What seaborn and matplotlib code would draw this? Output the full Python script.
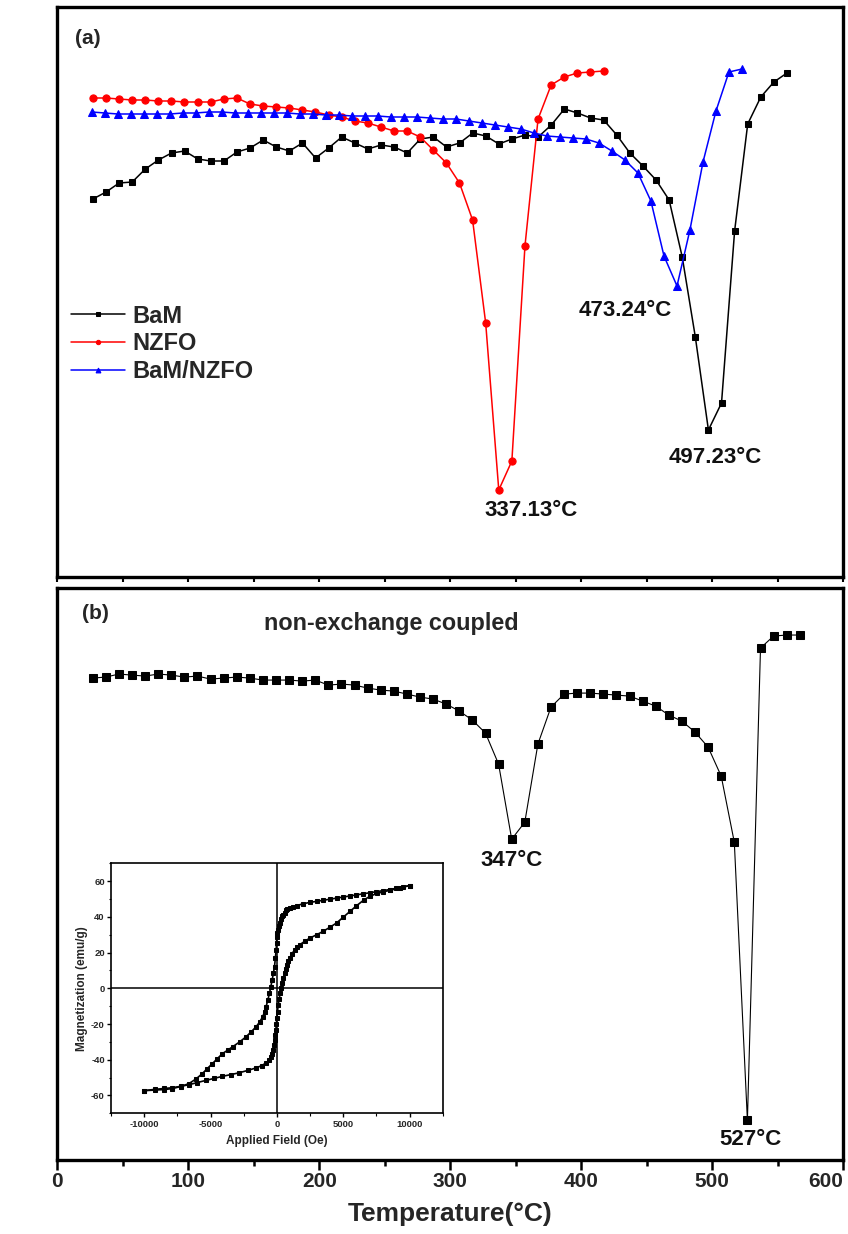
import matplotlib
matplotlib.use("Agg")
import matplotlib.pyplot as plt
from matplotlib.ticker import MultipleLocator
import seaborn as sns

# ---------------- panel (a): dM/dT curves ----------------
bam_T = [27.23, 37.23, 47.23, 57.23, 67.23, 77.23, 87.23, 97.23, 107.23, 117.23,
         127.23, 137.23, 147.23, 157.23, 167.23, 177.23, 187.23, 197.23, 207.23, 217.23,
         227.23, 237.23, 247.23, 257.23, 267.23, 277.23, 287.23, 297.23, 307.23, 317.23,
         327.23, 337.23, 347.23, 357.23, 367.23, 377.23, 387.23, 397.23, 407.23, 417.23,
         427.23, 437.23, 447.23, 457.23, 467.23, 477.23, 487.23, 497.23, 507.23, 517.23,
         527.23, 537.23, 547.23, 557.23]
bam_v = [3.78, 3.85, 3.94, 3.95, 4.08, 4.17, 4.24, 4.26, 4.18, 4.16,
         4.16, 4.25, 4.29, 4.37, 4.30, 4.26, 4.34, 4.19, 4.29, 4.40,
         4.34, 4.28, 4.32, 4.30, 4.24, 4.38, 4.40, 4.30, 4.34, 4.44,
         4.41, 4.33, 4.38, 4.42, 4.40, 4.52, 4.68, 4.64, 4.59, 4.57,
         4.42, 4.24, 4.11, 3.97, 3.77, 3.20, 2.40, 1.47, 1.74, 3.46,
         4.53, 4.80, 4.95, 5.04]

nzfo_T = [27.13, 37.13, 47.13, 57.13, 67.13, 77.13, 87.13, 97.13, 107.13, 117.13,
          127.13, 137.13, 147.13, 157.13, 167.13, 177.13, 187.13, 197.13, 207.13, 217.13,
          227.13, 237.13, 247.13, 257.13, 267.13, 277.13, 287.13, 297.13, 307.13, 317.13,
          327.13, 337.13, 347.13, 357.13, 367.13, 377.13, 387.13, 397.13, 407.13, 417.13]
nzfo_v = [4.79, 4.79, 4.78, 4.77, 4.77, 4.76, 4.76, 4.75, 4.75, 4.75,
          4.78, 4.79, 4.73, 4.71, 4.70, 4.69, 4.67, 4.65, 4.62, 4.60,
          4.56, 4.54, 4.50, 4.46, 4.46, 4.40, 4.27, 4.14, 3.94, 3.57,
          2.54, 0.87, 1.16, 3.31, 4.58, 4.92, 5.00, 5.04, 5.05, 5.06]

comp_T = [26.4, 36.3, 46.2, 56.2, 66.1, 76.0, 85.9, 95.9, 105.8, 115.7,
          125.7, 135.6, 145.5, 155.5, 165.4, 175.3, 185.2, 195.2, 205.1, 215.0,
          225.0, 234.9, 244.8, 254.7, 264.7, 274.6, 284.5, 294.5, 304.4, 314.3,
          324.3, 334.2, 344.1, 354.0, 364.0, 373.9, 383.8, 393.8, 403.7, 413.6,
          423.5, 433.5, 443.4, 453.3, 463.3, 473.24, 483.1, 493.1, 503.0, 512.9,
          522.9]
comp_v = [4.65, 4.64, 4.63, 4.63, 4.63, 4.63, 4.63, 4.64, 4.64, 4.65,
          4.65, 4.64, 4.64, 4.64, 4.64, 4.64, 4.63, 4.63, 4.62, 4.62,
          4.61, 4.61, 4.61, 4.60, 4.60, 4.60, 4.59, 4.58, 4.58, 4.56,
          4.54, 4.52, 4.50, 4.48, 4.44, 4.41, 4.40, 4.39, 4.38, 4.34,
          4.26, 4.17, 4.04, 3.76, 3.21, 2.91, 3.47, 4.15, 4.66, 5.05,
          5.08]

# ---------------- panel (b): non-exchange coupled sample ----------------
nec_T = [27, 37, 47, 57, 67, 77, 87, 97, 107, 117,
         127, 137, 147, 157, 167, 177, 187, 197, 207, 217,
         227, 237, 247, 257, 267, 277, 287, 297, 307, 317,
         327, 337, 347, 357, 367, 377, 387, 397, 407, 417,
         427, 437, 447, 457, 467, 477, 487, 497, 507, 517,
         527, 537, 547, 557, 567]
nec_v = [4.81, 4.82, 4.85, 4.84, 4.83, 4.85, 4.84, 4.82, 4.83, 4.80,
         4.81, 4.82, 4.81, 4.79, 4.79, 4.79, 4.78, 4.79, 4.74, 4.75,
         4.74, 4.71, 4.69, 4.68, 4.65, 4.62, 4.60, 4.55, 4.48, 4.39,
         4.26, 3.95, 3.20, 3.37, 4.15, 4.52, 4.65, 4.66, 4.66, 4.65,
         4.64, 4.63, 4.58, 4.53, 4.44, 4.38, 4.27, 4.12, 3.83, 3.17,
         0.39, 5.11, 5.23, 5.24, 5.24]
temp_ticks = [0, 100, 200, 300, 400, 500, 600]

# ---------------- inset: hysteresis loop (field in Oe, M in emu/g) ----------------
desc_H = [10000, 9500, 9000, 8500, 8000, 7500, 7000, 6500, 6000, 5500,
          5000, 4500, 4000, 3500, 3000, 2500, 2000, 1500, 1200, 962,
          800, 700, 582, 500, 405, 300, 203, 130, 76, 30,
          0, -25, -51, -110, -177, -260, -354, -450, -557, -680,
          -810, -930, -1063, -1300, -1570, -1950, -2329, -2800, -3342, -3700,
          -4101, -4500, -4861, -5250, -5620, -6100, -6633, -7250, -7899, -8500,
          -9200, -10000]
desc_M = [57.5, 56.8, 56.0, 55.3, 54.7, 54.1, 53.5, 52.9, 52.3, 51.7,
          51.1, 50.5, 49.9, 49.3, 48.7, 48.1, 47.4, 46.3, 45.6, 45.0,
          44.2, 43.6, 42.2, 41.3, 40.3, 38.6, 36.6, 34.8, 32.8, 30.8,
          29.0, 25.5, 21.6, 17.0, 12.2, 8.4, 4.7, 1.0, -2.8, -6.6,
          -10.3, -13.2, -15.9, -18.9, -21.6, -24.5, -27.2, -30.0, -32.8, -34.6,
          -36.6, -39.5, -42.2, -45.0, -47.8, -50.8, -53.4, -55.0, -56.2, -56.7,
          -57.0, -57.3]
asc_H = [-10000, -9200, -8500, -7899, -7250, -6633, -6000, -5367, -4700, -4101,
         -3450, -2835, -2200, -1570, -1150, -810, -600, -430, -330, -253,
         -200, -152, -110, -76, -40, 0, 50, 101, 175, 253,
         330, 405, 490, 582, 670, 759, 860, 962, 1150, 1342,
         1530, 1722, 2100, 2481, 3000, 3494, 4000, 4506, 5000, 5519,
         6000, 6532, 7000, 7544, 8000, 8557, 9300, 10000]
asc_M = [-57.3, -56.6, -56.1, -55.7, -54.9, -54.0, -52.8, -51.6, -50.4, -49.3,
         -48.3, -47.3, -46.0, -44.6, -43.3, -41.8, -40.4, -38.4, -36.6, -34.3,
         -31.9, -29.1, -26.3, -23.4, -20.2, -16.9, -13.0, -9.4, -6.0, -2.8,
         0.0, 2.8, 5.6, 8.4, 10.9, 13.1, 15.1, 16.9, 19.4, 21.6,
         23.1, 24.4, 26.3, 28.1, 30.0, 31.9, 34.2, 36.6, 39.8, 43.1,
         46.2, 49.3, 51.5, 53.1, 54.0, 54.9, 56.3, 57.5]
field_ticks = [-10000, -5000, 0, 5000, 10000]
moment_ticks = [-60, -40, -20, 0, 20, 40, 60]

peak_a = [("BaM/NZFO", 473.24, -37.5, -17.5),
          ("NZFO", 337.13, 23.5, -14.5),
          ("BaM", 497.23, 5.0, -19.5)]
peak_b = [(347, 0.0, -15.5), (527, 2.5, -14.0)]

sns.set_theme(style="ticks")
plt.rcParams["font.family"] = ["Liberation Sans", "DejaVu Sans"]
plt.rcParams["font.weight"] = "bold"
plt.rcParams["axes.labelweight"] = "bold"
plt.rcParams["axes.unicode_minus"] = False

W, H = 848, 1234
fig = plt.figure(figsize=(W / 100, H / 100), dpi=100)
fig.patch.set_facecolor("white")


def frac_rect(x0, y0, x1, y1):
    return [x0 / W, 1 - y1 / H, (x1 - x0) / W, (y1 - y0) / H]


ax_a = fig.add_axes(frac_rect(57.3, 7, 843, 577))
ax_b = fig.add_axes(frac_rect(57.3, 588, 843, 1159.5))
ax_in = fig.add_axes(frac_rect(111, 863.3, 442.7, 1113.3))

for ax in (ax_a, ax_b):
    ax.set_facecolor("white")
    for sp in ax.spines.values():
        sp.set_linewidth(2.4)
        sp.set_color("black")
    ax.set_xlim(0, 600)
    ax.set_yticks([])
    ax.set_xticks(temp_ticks)
    ax.xaxis.set_minor_locator(MultipleLocator(50))

ax_a.set_ylim(0, 5.70)
ax_b.set_ylim(0, 5.71)

# panel (a) curves
sns.lineplot(x=bam_T, y=bam_v, ax=ax_a, color="black", marker="s", markersize=4.6,
             markeredgecolor="black", linewidth=1.1, label="BaM", errorbar=None, sort=False)
sns.lineplot(x=nzfo_T, y=nzfo_v, ax=ax_a, color="#ff0000", marker="o", markersize=5.2,
             markeredgecolor="#ff0000", linewidth=1.1, label="NZFO", errorbar=None, sort=False)
sns.lineplot(x=comp_T, y=comp_v, ax=ax_a, color="#0000ff", marker="^", markersize=5.8,
             markeredgecolor="#0000ff", linewidth=1.1, label="BaM/NZFO", errorbar=None, sort=False)

series = {"BaM": (bam_T, bam_v), "NZFO": (nzfo_T, nzfo_v), "BaM/NZFO": (comp_T, comp_v)}
for name, t_peak, dx, dy in peak_a:
    ts, vs = series[name]
    i = ts.index(t_peak)
    ax_a.annotate(f"{t_peak:.2f}\u00b0C", xy=(t_peak, vs[i]), xytext=(dx, dy),
                  textcoords="offset points", ha="center", va="center",
                  fontsize=16, fontweight="bold", color="#111111")

leg = ax_a.legend(loc="upper left", bbox_to_anchor=(0.017, 0.478), frameon=False,
                  fontsize=17, handlelength=2.3, handletextpad=0.3, labelspacing=0.2,
                  borderpad=0, borderaxespad=0, markerscale=0.6)
for txt in leg.get_texts():
    txt.set_fontweight("bold")

ax_a.text(0.039, 0.945, "(a)", transform=ax_a.transAxes, ha="center", va="center",
          fontsize=15, fontweight="bold")
ax_a.tick_params(axis="x", which="major", direction="out", length=3.5, width=1.5,
                 labelbottom=False, bottom=True, color="black")
ax_a.tick_params(axis="x", which="minor", direction="out", length=3.5, width=1.5,
                 bottom=True, color="black")
ax_a.set_xlabel("")
ax_a.set_ylabel("dM/dT", fontsize=18, fontweight="bold")
ax_a.yaxis.set_label_coords(-0.042, 0.5)

# panel (b) curve
sns.lineplot(x=nec_T, y=nec_v, ax=ax_b, color="black", marker="s", markersize=5.6,
             markeredgecolor="black", linewidth=0.8, errorbar=None, sort=False)
for t_peak, dx, dy in peak_b:
    i = nec_T.index(t_peak)
    ax_b.annotate(f"{t_peak}\u00b0C", xy=(t_peak, nec_v[i]), xytext=(dx, dy),
                  textcoords="offset points", ha="center", va="center",
                  fontsize=16, fontweight="bold", color="#111111")

ax_b.text(0.048, 0.956, "(b)", transform=ax_b.transAxes, ha="center", va="center",
          fontsize=15, fontweight="bold")
ax_b.text(0.4256, 0.9387, "non-exchange coupled", transform=ax_b.transAxes,
          ha="center", va="center", fontsize=16.8, fontweight="bold")
ax_b.tick_params(axis="x", which="major", direction="out", length=7, width=1.8,
                 labelsize=15, pad=2, bottom=True, color="black")
ax_b.tick_params(axis="x", which="minor", direction="out", length=4, width=1.8,
                 bottom=True, color="black")
ax_b.set_xticks(temp_ticks, labels=[str(t) for t in temp_ticks], fontweight="bold")
# keep the last tick label inside the figure edge
last_label = ax_b.get_xticklabels()[-1]
last_label.set_horizontalalignment("right")
last_label.set_x(temp_ticks[-1] + 3)
ax_b.set_xlabel("Temperature(\u00b0C)", fontsize=19, fontweight="bold", labelpad=8)
ax_b.set_ylabel("dM/dT", fontsize=18, fontweight="bold")
ax_b.yaxis.set_label_coords(-0.042, 0.5)

# inset: M-H loop
ax_in.set_facecolor("white")
for sp in ax_in.spines.values():
    sp.set_linewidth(1.2)
    sp.set_color("black")
ax_in.set_xlim(-12500, 12500)
ax_in.set_ylim(-70, 70)
ax_in.axhline(0, color="black", linewidth=1.1, zorder=1)
ax_in.axvline(0, color="black", linewidth=1.1, zorder=1)
sns.lineplot(x=desc_H, y=desc_M, ax=ax_in, color="black", marker="s", markersize=2.4,
             markeredgecolor="black", linewidth=1.2, errorbar=None, sort=False)
sns.lineplot(x=asc_H, y=asc_M, ax=ax_in, color="black", marker="s", markersize=2.4,
             markeredgecolor="black", linewidth=1.2, errorbar=None, sort=False)
ax_in.set_xticks(field_ticks, labels=[str(v) for v in field_ticks], fontweight="bold")
ax_in.set_yticks(moment_ticks, labels=[str(v) for v in moment_ticks], fontweight="bold")
ax_in.xaxis.set_minor_locator(MultipleLocator(2500))
ax_in.yaxis.set_minor_locator(MultipleLocator(10))
ax_in.tick_params(which="major", direction="out", length=3, width=1.0, labelsize=6.8,
                  pad=1.5, left=True, bottom=True, color="black")
ax_in.tick_params(which="minor", direction="out", length=1.8, width=0.8,
                  left=True, bottom=True, color="black")
ax_in.set_xlabel("Applied Field (Oe)", fontsize=8.5, fontweight="bold", labelpad=5)
ax_in.set_ylabel("Magnetization (emu/g)", fontsize=8.5, fontweight="bold", labelpad=2)

fig.savefig("out.png", dpi=100, facecolor="white")
